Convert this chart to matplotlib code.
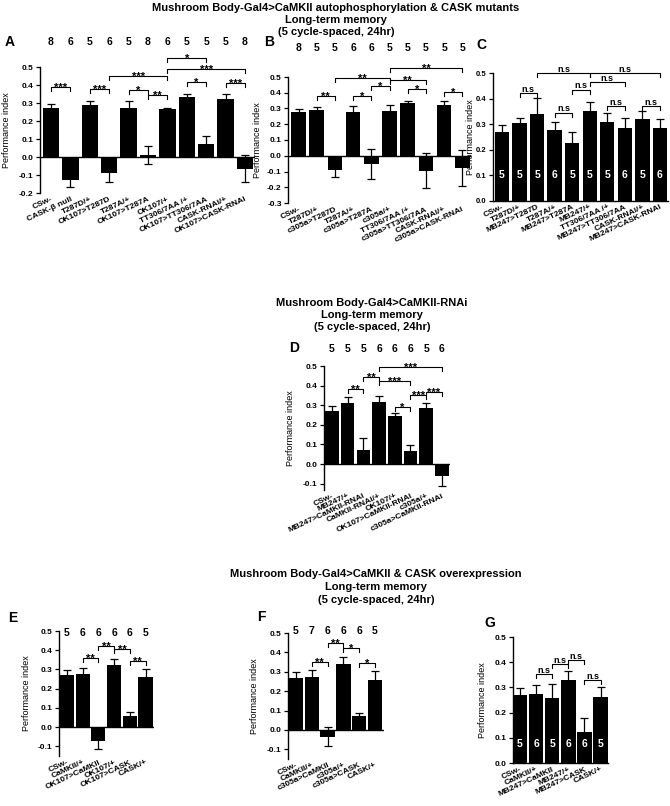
import numpy as np
import matplotlib.pyplot as plt
from matplotlib.ticker import FormatStrFormatter

plt.rcParams['font.family'] = ['Liberation Sans', 'DejaVu Sans']

W, H = 670, 806

# ---- data: panel A (OK107 autophosphorylation & CASK mutants)
a_labels = ["CSw-", "CASK-β null", "T287D/+", "OK107>T287D", "T287A/+", "OK107>T287A",
            "OK107/+", "TT306/7AA /+", "OK107>TT306/7AA", "CASK-RNAi/+", "OK107>CASK-RNAi"]
a_mean = [0.275, -0.125, 0.29, -0.09, 0.275, 0.01, 0.265, 0.335, 0.075, 0.32, -0.065]
a_err = [0.02, 0.04, 0.02, 0.05, 0.035, 0.05, 0.01, 0.015, 0.04, 0.03, 0.075]
a_n = [8, 6, 5, 6, 5, 8, 6, 5, 5, 5, 8]
a_sig = [(0, 1, 0.39, "***"), (2, 3, 0.38, "***"), (3, 6, 0.45, "***"), (4, 5, 0.37, "*"),
         (5, 6, 0.345, "**"), (6, 8, 0.55, "*"), (6, 10, 0.49, "***"), (7, 8, 0.415, "*"),
         (9, 10, 0.41, "***")]

# ---- panel B (c305a)
b_labels = ["CSw-", "T287D/+", "c305a>T287D", "T287A/+", "c305a>T287A", "c305a/+",
            "TT306/7AA /+", "c305a>TT306/7AA", "CASK-RNAi/+", "c305a>CASK-RNAi"]
b_mean = [0.28, 0.29, -0.09, 0.28, -0.05, 0.285, 0.335, -0.095, 0.32, -0.08]
b_err = [0.02, 0.02, 0.045, 0.035, 0.095, 0.035, 0.015, 0.11, 0.03, 0.115]
b_n = [8, 5, 5, 6, 6, 5, 5, 5, 5, 5]
b_sig = [(1, 2, 0.38, "**"), (2, 5, 0.495, "**"), (3, 4, 0.38, "*"), (4, 5, 0.44, "*"),
         (5, 9, 0.56, "**"), (5, 7, 0.48, "**"), (6, 7, 0.425, "*"), (8, 9, 0.405, "*")]

# ---- panel C (MB247)
c_labels = ["CSw-", "T287D/+", "MB247>T287D", "T287A/+", "MB247>T287A", "MB247/+",
            "TT306/7AA /+", "MB247>TT306/7AA", "CASK-RNAi/+", "MB247>CASK-RNAi"]
c_mean = [0.27, 0.305, 0.34, 0.275, 0.225, 0.35, 0.31, 0.283, 0.318, 0.283]
c_err = [0.027, 0.018, 0.062, 0.035, 0.043, 0.038, 0.033, 0.04, 0.032, 0.037]
c_n = [5, 5, 5, 6, 5, 5, 5, 6, 5, 6]
c_sig = [(1, 2, 0.42, "n.s"), (2, 5, 0.5, "n.s"), (5, 9, 0.5, "n.s"), (4, 5, 0.435, "n.s"),
         (5, 7, 0.463, "n.s"), (3, 4, 0.345, "n.s"), (6, 7, 0.37, "n.s"), (8, 9, 0.37, "n.s")]

# ---- panel D (CaMKII-RNAi)
d_labels = ["CSw-", "MB247/+", "MB247>CaMKII-RNAi", "CaMKII-RNAi/+", "OK107/+",
            "OK107>CaMKII-RNAi", "c305a/+", "c305a>CaMKII-RNAi"]
d_mean = [0.27, 0.31, 0.07, 0.315, 0.245, 0.065, 0.285, -0.06]
d_err = [0.025, 0.033, 0.063, 0.03, 0.017, 0.032, 0.027, 0.053]
d_n = [5, 5, 5, 6, 6, 6, 5, 6]
d_sig = [(1, 2, 0.383, "**"), (2, 3, 0.442, "**"), (3, 5, 0.425, "***"), (3, 7, 0.496, "***"),
         (4, 5, 0.29, "*"), (5, 6, 0.35, "***"), (6, 7, 0.367, "***")]

# ---- panels E, F, G (overexpression)
e_labels = ["CSw-", "CaMKII/+", "OK107>CaMKII", "OK107/+", "OK107>CASK", "CASK/+"]
e_mean = [0.27, 0.275, -0.07, 0.325, 0.06, 0.26]
e_err = [0.027, 0.035, 0.045, 0.03, 0.02, 0.04]
e_n = [5, 6, 6, 6, 6, 5]
e_sig = [(1, 2, 0.36, "**"), (2, 3, 0.42, "**"), (3, 4, 0.405, "**"), (4, 5, 0.345, "**")]

f_labels = ["CSw-", "CaMKII/+", "c305a>CaMKII", "c305a/+", "c305a>CASK", "CASK/+"]
f_mean = [0.27, 0.275, -0.035, 0.34, 0.07, 0.26]
f_err = [0.027, 0.035, 0.048, 0.035, 0.015, 0.043]
f_n = [5, 7, 6, 6, 6, 5]
f_sig = [(1, 2, 0.35, "**"), (2, 3, 0.45, "**"), (3, 4, 0.425, "*"), (4, 5, 0.345, "*")]

g_labels = ["CSw-", "CaMKII/+", "MB247>CaMKII", "MB247/+", "MB247>CASK", "CASK/+"]
g_mean = [0.27, 0.275, 0.257, 0.33, 0.125, 0.26]
g_err = [0.028, 0.033, 0.058, 0.037, 0.052, 0.04]
g_n = [5, 6, 5, 6, 6, 5]
g_sig = [(1, 2, 0.353, "n.s"), (2, 3, 0.392, "n.s"), (3, 4, 0.41, "n.s"), (4, 5, 0.328, "n.s")]

fig = plt.figure(figsize=(W / 100, H / 100), dpi=100)


def panel(letter, let_xy, geom, ylim, yticks, labels, mean, err, n, sig,
          n_top=None, n_inside=None, width=0.85, ylab_x=None, tick_fs=6):
    x0, x1, yt, yb, c0, sp = geom
    ax = fig.add_axes([x0 / W, 1 - yb / H, (x1 - x0) / W, (yb - yt) / H])
    ax.set_xlim((x0 - c0) / sp, (x1 - c0) / sp)
    ax.set_ylim(*ylim)
    ppu = (yb - yt) / (ylim[1] - ylim[0])
    x = np.arange(len(mean))
    ax.bar(x, mean, width, color="black", zorder=3)
    ax.errorbar(x, mean, yerr=err, fmt="none", ecolor="black", elinewidth=0.9,
                capsize=3, capthick=0.9, zorder=2)
    for s in ["top", "right"]:
        ax.spines[s].set_visible(False)
    ax.spines["left"].set_linewidth(1.0)
    if ylim[0] < 0:
        ax.spines["bottom"].set_visible(False)
        ax.axhline(0, color="black", lw=1.0, zorder=4)
    else:
        ax.spines["bottom"].set_linewidth(1.0)
    ax.set_yticks(yticks)
    ax.yaxis.set_major_formatter(FormatStrFormatter("%.1f"))
    ax.tick_params(axis="y", length=3, width=0.9, pad=1.5, labelsize=tick_fs)
    for t in ax.get_yticklabels():
        t.set_fontweight("bold")
    ax.set_xticks(x)
    ax.set_xticklabels(labels, rotation=25, ha="right", rotation_mode="anchor",
                       fontsize=6, fontweight="bold")
    ax.tick_params(axis="x", length=0, pad=2)
    ax.set_ylabel("Performance index", fontsize=6.5)
    ax.yaxis.set_label_coords((ylab_x - x0) / (x1 - x0), 0.5)

    d = 4 / ppu
    for i, j, h, txt in sig:
        ax.plot([i, i, j, j], [h - d, h, h, h - d], color="black", lw=0.8,
                clip_on=False, zorder=5)
        star = "*" in txt
        ax.annotate(txt, ((i + j) / 2, h), xytext=(0, -2.8 if star else 0.8),
                    textcoords="offset points", ha="center", va="baseline",
                    fontsize=8 if star else 6.5, fontweight="bold",
                    annotation_clip=False)
    if n_top is not None:
        yv = ylim[1] - (n_top - yt) / ppu
        for xi, nv in zip(x, n):
            ax.text(xi, yv, str(nv), ha="center", va="center", fontsize=7.5,
                    fontweight="bold", clip_on=False)
    if n_inside is not None:
        for xi, nv in zip(x, n):
            ax.text(xi, n_inside, str(nv), ha="center", va="center", fontsize=7.5,
                    fontweight="bold", color="white", zorder=6)
    fig.text(let_xy[0] / W, 1 - let_xy[1] / H, letter, fontsize=10, fontweight="bold",
             ha="left", va="center")
    return ax


panel("A", (5, 42), (40, 255, 67, 193, 51, 19.4), (-0.2, 0.5), np.arange(-0.2, 0.51, 0.1),
      a_labels, a_mean, a_err, a_n, a_sig, n_top=42, width=0.85, ylab_x=11)
panel("B", (264, 42), (288, 471, 77, 203, 298.5, 18.2), (-0.3, 0.5), np.arange(-0.3, 0.51, 0.1),
      b_labels, b_mean, b_err, b_n, b_sig, n_top=48, width=0.8, ylab_x=262)
panel("C", (476, 45), (493, 668, 73, 200.7, 502, 17.55), (0, 0.5), np.arange(0, 0.51, 0.1),
      c_labels, c_mean, c_err, c_n, c_sig, n_inside=0.1, width=0.82, ylab_x=475,
      tick_fs=5.5)
panel("D", (289, 348), (324, 450, 366, 489.5, 332, 15.7), (-0.13, 0.5), np.arange(-0.1, 0.51, 0.1),
      d_labels, d_mean, d_err, d_n, d_sig, n_top=349, width=0.86, ylab_x=295)
panel("E", (8, 618), (59, 154, 631, 756, 67, 15.7), (-0.15, 0.5), np.arange(-0.1, 0.51, 0.1),
      e_labels, e_mean, e_err, e_n, e_sig, n_top=633, width=0.9, ylab_x=31)
panel("F", (257, 617), (288, 384, 633, 759, 296, 15.8), (-0.15, 0.5), np.arange(-0.1, 0.51, 0.1),
      f_labels, f_mean, f_err, f_n, f_sig, n_top=631, width=0.9, ylab_x=259)
panel("G", (484, 623), (513, 608, 637, 763, 520, 16.1), (0, 0.5), np.arange(0, 0.51, 0.1),
      g_labels, g_mean, g_err, g_n, g_sig, n_inside=0.075, width=0.9, ylab_x=487)

titles = [
    (336, [8, 20, 32], ["Mushroom Body-Gal4>CaMKII autophosphorylation & CASK mutants",
                        "Long-term memory", "(5 cycle-spaced, 24hr)"]),
    (372, [303, 315, 327], ["Mushroom Body-Gal4>CaMKII-RNAi", "Long-term memory",
                            "(5 cycle-spaced, 24hr)"]),
    (376, [574, 587, 600], ["Mushroom Body-Gal4>CaMKII & CASK overexpression",
                            "Long-term memory", "(5 cycle-spaced, 24hr)"]),
]
for cx, ys, lines in titles:
    for yy, line in zip(ys, lines):
        fig.text(cx / W, 1 - yy / H, line, ha="center", va="center", fontsize=8,
                 fontweight="bold")

fig.savefig("out.png", dpi=100)
